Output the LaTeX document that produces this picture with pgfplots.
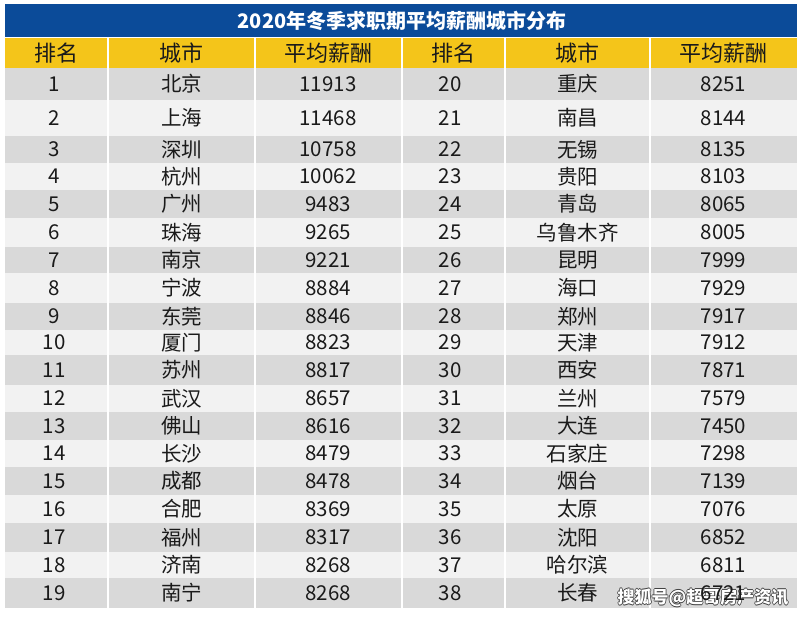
\documentclass[border=0pt]{standalone}
\usepackage{pgfplots}
\usepackage{pgfplotstable}
\pgfplotsset{compat=1.18}
\usepackage{fontspec}
\setmainfont{Noto Sans CJK SC}
\definecolor{tblue}{HTML}{0B4B99}
\definecolor{tyellow}{HTML}{F4C51A}
\definecolor{tgray}{HTML}{D9D9D9}
\definecolor{tlight}{HTML}{F2F2F2}
\definecolor{ttext}{HTML}{1A1A1A}

\pgfplotstableread[col sep=comma]{
yc,r1,c1,s1,r2,c2,s2
84,1,北京,11913,20,重庆,8251
118,2,上海,11468,21,南昌,8144
149.5,3,深圳,10758,22,无锡,8135
176.5,4,杭州,10062,23,贵阳,8103
204,5,广州,9483,24,青岛,8065
232.5,6,珠海,9265,25,乌鲁木齐,8005
260,7,南京,9221,26,昆明,7999
288,8,宁波,8884,27,海口,7929
316.5,9,东莞,8846,28,郑州,7917
342.5,10,厦门,8823,29,天津,7912
370,11,苏州,8817,30,西安,7871
398.5,12,武汉,8657,31,兰州,7579
426,13,佛山,8616,32,大连,7450
453.5,14,长沙,8479,33,石家庄,7298
481,15,成都,8478,34,烟台,7139
509,16,合肥,8369,35,太原,7076
537.5,17,福州,8317,36,沈阳,6852
565,18,济南,8268,37,哈尔滨,6811
593,19,南宁,8268,38,长春,6721
}\data

\newcommand{\band}[3]{\addplot[fill=#3,draw=none] coordinates {(5,#1) (797,#1) (797,#2) (5,#2)} --cycle;}
\newcommand{\sep}[1]{\addplot[white,line width=2pt] coordinates {(#1,38) (#1,608)};}
\newcommand{\col}[2]{\addplot[only marks,mark=none,nodes near coords,point meta=explicit symbolic,
  nodes near coords style={anchor=center,text=ttext,font=\fontsize{20.5}{24}\selectfont}]
  table[x expr=#1,y=yc,meta=#2]{\data};}
\newcommand{\wm}[2]{\node[font=\bfseries\fontsize{17}{20}\selectfont,text=black!75,xshift=#1,yshift=#2] at (axis cs:703,598) {搜狐号@超哥房产资讯};}

\begin{document}
\begin{tikzpicture}
\begin{axis}[scale only axis,width=800pt,height=618pt,xmin=0,xmax=800,ymin=0,ymax=618,
  y dir=reverse,hide axis,clip=false]
\addplot[fill=white,draw=none] coordinates {(0,0) (800,0) (800,618) (0,618)} --cycle;
\band{4}{37}{tblue}
\band{38}{68}{tyellow}
\band{68}{608}{tlight}
\band{68}{100}{tgray}
\band{136}{163}{tgray}
\band{190}{218}{tgray}
\band{247}{273}{tgray}
\band{303}{330}{tgray}
\band{355}{385}{tgray}
\band{412}{440}{tgray}
\band{467}{495}{tgray}
\band{523}{552}{tgray}
\band{578}{608}{tgray}
\sep{108}\sep{255}\sep{401.5}\sep{505}\sep{650}
% title
\addplot[only marks,mark=none,nodes near coords,point meta=explicit symbolic,
  nodes near coords style={anchor=center,text=white,font=\bfseries\fontsize{20}{24}\selectfont}]
  coordinates {(402,21) [2020年冬季求职期平均薪酬城市分布]};
% header
\addplot[only marks,mark=none,nodes near coords,point meta=explicit symbolic,
  nodes near coords style={anchor=center,text=ttext,font=\fontsize{22}{26}\selectfont}]
  coordinates {(56.5,53) [排名] (181.5,53) [城市] (328,53) [平均薪酬]
               (453,53) [排名] (577.5,53) [城市] (723.5,53) [平均薪酬]};
\col{54}{r1}
\col{181.5}{c1}
\col{328}{s1}
\col{450}{r2}
\col{577.5}{c2}
\col{723.5}{s2}
% watermark
\wm{0.8pt}{0pt}\wm{-0.8pt}{0pt}\wm{0pt}{0.8pt}\wm{0pt}{-0.8pt}
\node[font=\bfseries\fontsize{17}{20}\selectfont,text=white] at (axis cs:703,598) {搜狐号@超哥房产资讯};
\end{axis}
\end{tikzpicture}
\end{document}
